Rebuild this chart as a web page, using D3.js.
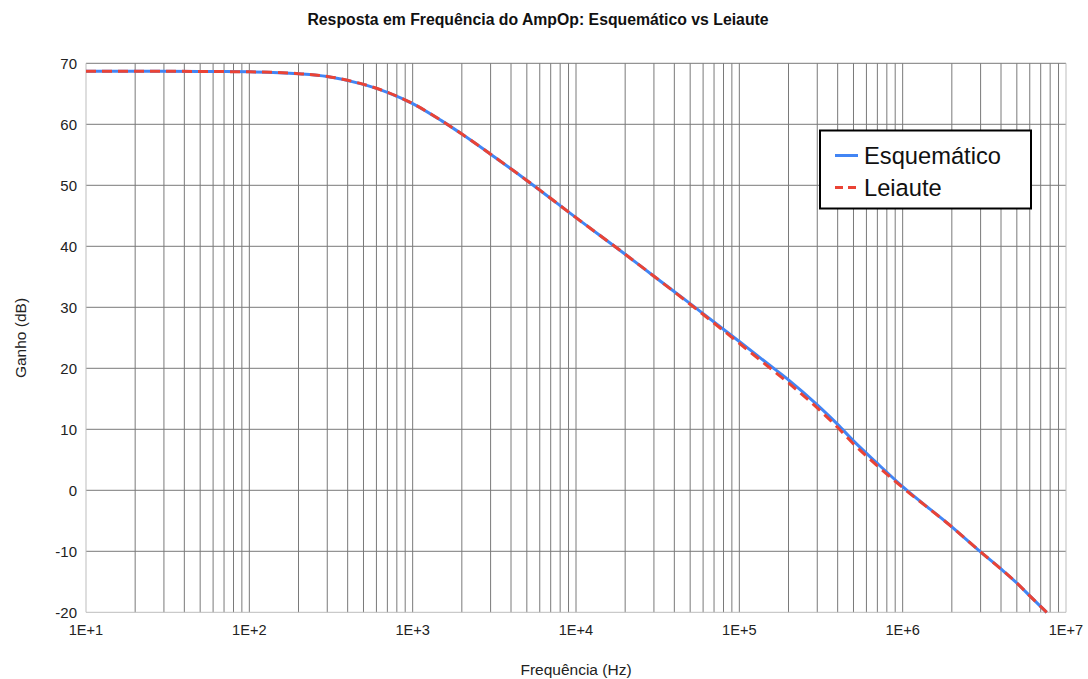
<!DOCTYPE html>
<html>
<head>
<meta charset="utf-8">
<script src="https://cdn.jsdelivr.net/npm/d3@7"></script>
<style>
  html, body { margin: 0; padding: 0; background: #fff; }
  svg { display: block; font-family: "Liberation Sans", Arial, sans-serif; }
</style>
</head>
<body>
<svg id="chart" width="1088" height="679"></svg>
<script>
// Frequency points (Hz) and gain (dB) for each curve
const frequencies = [10, 20, 50, 100, 200, 300, 500, 700, 1000, 1500, 2000, 3000, 5000,
  10000, 20000, 30000, 50000, 100000, 150000, 200000, 300000, 400000, 500000, 700000,
  1000000, 2000000, 3000000, 4000000, 5000000, 6000000, 7620000];
const gainEsquematico = [68.7, 68.7, 68.66, 68.6, 68.3, 67.85, 66.55, 65.25, 63.4, 60.6, 58.4, 55.1, 50.8,
  44.7, 38.7, 35.1, 30.6, 24.4, 20.7, 18.1, 14.0, 10.8, 8.1, 4.4,
  0.6, -6.0, -10.1, -12.9, -15.2, -17.3, -20.0];
const gainLeiaute = [68.7, 68.7, 68.66, 68.6, 68.3, 67.85, 66.55, 65.25, 63.4, 60.6, 58.4, 55.1, 50.8,
  44.7, 38.7, 35.1, 30.5, 24.1, 20.3, 17.6, 13.5, 10.3, 7.6, 4.0,
  0.45, -6.0, -10.1, -12.9, -15.2, -17.3, -20.0];
const seriesNames = ["Esquemático", "Leiaute"];
const xTickLabels = ["1E+1", "1E+2", "1E+3", "1E+4", "1E+5", "1E+6", "1E+7"];
const yTicks = [-20, -10, 0, 10, 20, 30, 40, 50, 60, 70];

(function draw() {
  const svg = d3.select("#chart");
  const plotLeft = 86, plotRight = 1066, plotTop = 63.3, plotBottom = 612.3;

  const x = d3.scaleLog().domain([10, 1e7]).range([plotLeft, plotRight]);
  const y = d3.scaleLinear().domain([-20, 70]).range([plotBottom, plotTop]);

  // Title
  svg.append("text")
    .attr("x", 538).attr("y", 25)
    .attr("text-anchor", "middle")
    .attr("font-size", 15.8).attr("font-weight", "bold").attr("fill", "#111")
    .text("Resposta em Frequência do AmpOp: Esquemático vs Leiaute");

  // Grid: vertical lines at every 1..9 multiple of each decade
  const vGrid = [];
  for (let d = 10; d < 1e7; d *= 10) {
    for (let m = 1; m <= 9; m++) vGrid.push(d * m);
  }
  svg.append("g").selectAll("line").data(vGrid.filter(v => v > 10)).join("line")
    .attr("x1", d => x(d)).attr("x2", d => x(d))
    .attr("y1", plotTop).attr("y2", plotBottom)
    .attr("stroke", "#7a7a7a").attr("stroke-width", 1);

  svg.append("g").selectAll("line").data(yTicks.filter(v => v > -20)).join("line")
    .attr("x1", plotLeft).attr("x2", plotRight)
    .attr("y1", d => y(d)).attr("y2", d => y(d))
    .attr("stroke", "#7a7a7a").attr("stroke-width", 1);

  // Frame lines (lighter)
  const frame = svg.append("g").attr("stroke", "#bdbdbd").attr("stroke-width", 1);
  frame.append("line").attr("x1", plotLeft).attr("x2", plotLeft).attr("y1", plotTop).attr("y2", plotBottom);
  frame.append("line").attr("x1", plotLeft).attr("x2", plotRight).attr("y1", plotBottom).attr("y2", plotBottom);
  frame.append("line").attr("x1", plotRight).attr("x2", plotRight).attr("y1", plotTop).attr("y2", plotBottom);

  // Y tick labels
  svg.append("g").selectAll("text").data(yTicks).join("text")
    .attr("x", 77).attr("y", d => y(d) + 5.5)
    .attr("text-anchor", "end")
    .attr("font-size", 15).attr("fill", "#222")
    .text(d => d);

  // X tick labels
  const decades = xTickLabels.map((_, i) => Math.pow(10, i + 1));
  svg.append("g").selectAll("text").data(decades).join("text")
    .attr("x", d => x(d)).attr("y", 635)
    .attr("text-anchor", "middle")
    .attr("font-size", 14.6).attr("fill", "#222")
    .text((d, i) => xTickLabels[i]);

  // Axis titles
  svg.append("text")
    .attr("x", 576).attr("y", 675)
    .attr("text-anchor", "middle")
    .attr("font-size", 15.5).attr("fill", "#222")
    .text("Frequência (Hz)");
  svg.append("text")
    .attr("transform", "translate(26,338) rotate(-90)")
    .attr("text-anchor", "middle")
    .attr("font-size", 15.5).attr("fill", "#222")
    .text("Ganho (dB)");

  // Curves
  const line = d3.line()
    .x(d => x(d[0])).y(d => y(d[1]))
    .curve(d3.curveMonotoneX);

  const dataEsq = frequencies.map((f, i) => [f, gainEsquematico[i]]);
  const dataLei = frequencies.map((f, i) => [f, gainLeiaute[i]]);

  svg.append("path").datum(dataEsq)
    .attr("d", line).attr("fill", "none")
    .attr("stroke", "#4285F4").attr("stroke-width", 3);
  svg.append("path").datum(dataLei)
    .attr("d", line).attr("fill", "none")
    .attr("stroke", "#EA4335").attr("stroke-width", 3)
    .attr("stroke-dasharray", "10,6");

  // Legend
  const lg = svg.append("g");
  lg.append("rect")
    .attr("x", 820).attr("y", 130.5).attr("width", 211).attr("height", 78)
    .attr("fill", "#fff").attr("stroke", "#000").attr("stroke-width", 2);
  const legendItems = [
    { name: seriesNames[0], color: "#4285F4", dash: null, y: 155.5 },
    { name: seriesNames[1], color: "#EA4335", dash: "8,5", y: 187.5 }
  ];
  legendItems.forEach(it => {
    lg.append("line")
      .attr("x1", 835).attr("x2", 858).attr("y1", it.y).attr("y2", it.y)
      .attr("stroke", it.color).attr("stroke-width", 3)
      .attr("stroke-dasharray", it.dash);
    lg.append("text")
      .attr("x", 864).attr("y", it.y + 8)
      .attr("font-size", 23.7).attr("fill", "#111")
      .text(it.name);
  });
})();
</script>
</body>
</html>
